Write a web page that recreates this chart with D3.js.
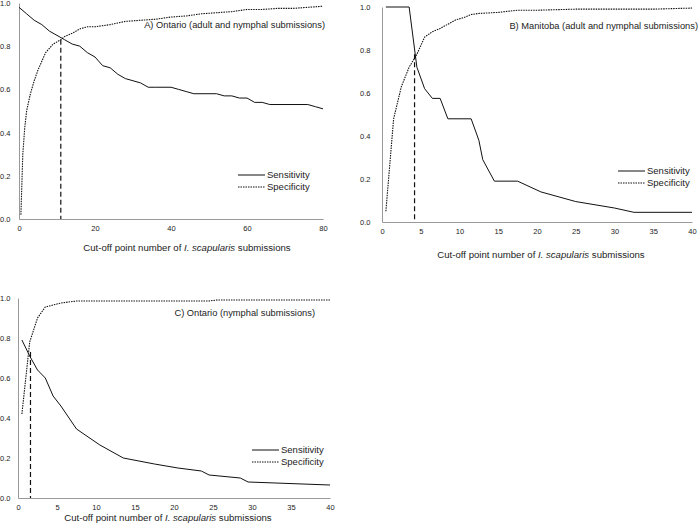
<!DOCTYPE html>
<html><head><meta charset="utf-8">
<script src="https://cdn.jsdelivr.net/npm/d3@7"></script>
<style>body{margin:0;background:#fff}svg{display:block}text{font-family:"Liberation Sans",Arial,sans-serif;fill:#222}</style>
</head><body><svg id="c" width="700" height="532"></svg>
<script>
// Panel A: Ontario (adult and nymphal submissions)
const sensA_x = [0,2,4,6,8,10,12,14,16,18,20,22,24,26,28,30,32,34,36,40,42,44,46,52,54,56,58,60,62,64,66,76,78,80];
const sensA_y = [0.98,0.95,0.92,0.90,0.87,0.85,0.83,0.81,0.80,0.77,0.75,0.71,0.70,0.67,0.65,0.64,0.63,0.61,0.61,0.61,0.60,0.59,0.58,0.58,0.57,0.57,0.56,0.56,0.54,0.54,0.53,0.53,0.52,0.51];
const specA_x = [0.5,1,1.5,2,3,4,5,6,7,8,9,10,11,12,14,16,18,20,24,28,32,36,40,44,48,52,56,60,64,68,72,76,80];
const specA_y = [0.02,0.30,0.42,0.50,0.58,0.64,0.69,0.73,0.77,0.79,0.81,0.82,0.83,0.845,0.86,0.88,0.89,0.89,0.90,0.915,0.92,0.925,0.935,0.94,0.95,0.955,0.96,0.97,0.97,0.975,0.975,0.98,0.985];
const cutA = [11, 0.83];
// Panel B: Manitoba
const sensB_x = [0.5,3.5,4.5,5.5,6.5,7.5,8.5,11.5,12.5,13,14.5,17.5,20.5,25,30,32.5,40];
const sensB_y = [1.0,1.0,0.72,0.62,0.575,0.575,0.48,0.48,0.38,0.29,0.19,0.19,0.14,0.095,0.065,0.045,0.045];
const specB_x = [0.5,1.5,2.5,3.5,4.5,5.5,6.5,7.5,8.5,9.5,10.5,11.5,12.5,15,17.5,20,25,30,35,40];
const specB_y = [0.05,0.48,0.63,0.72,0.78,0.86,0.885,0.90,0.92,0.94,0.95,0.965,0.97,0.975,0.985,0.985,0.99,0.99,0.99,0.995];
const cutB = [4.2, 0.78];
// Panel C: Ontario (nymphal submissions)
const sensC_x = [0.5,1.5,2.5,3.5,4.5,5.5,7.5,10.5,13.5,17.5,20.5,23.5,24.5,28.5,29.5,40];
const sensC_y = [0.79,0.71,0.64,0.60,0.51,0.46,0.345,0.265,0.20,0.17,0.15,0.135,0.115,0.10,0.08,0.065];
const specC_x = [0.5,1.5,2.5,3.5,4.5,5.5,7.5,10,24.5,25.5,40];
const specC_y = [0.42,0.78,0.90,0.955,0.965,0.975,0.985,0.985,0.985,0.99,0.99];
const cutC = [1.6, 0.73];

const yTicks = [0,0.2,0.4,0.6,0.8,1.0];
const xTicksA = [0,20,40,60,80];
const xTicks40 = [0,5,10,15,20,25,30,35,40];
const titles = ["A) Ontario (adult and nymphal submissions)","B) Manitoba (adult and nymphal submissions)","C) Ontario (nymphal submissions)"];

const svg = d3.select("#c");
const zip = (xs, ys) => xs.map((x,i)=>[x, ys[i]]);

function panel(o){
  const x = d3.scaleLinear().domain([0,o.xmax]).range([o.x0,o.x1]);
  const y = d3.scaleLinear().domain([0,1]).range([o.y0,o.y1]);
  const g = svg.append("g");
  const ax = g.append("g").attr("transform",`translate(0,${o.y0})`)
    .call(d3.axisBottom(x).tickValues(o.xt).tickSize(0).tickPadding(0).tickFormat(d3.format("d")));
  ax.select(".domain").attr("stroke","#999");
  ax.selectAll("text").attr("y",10).attr("dy","0.32em").style("font-size","7.5px").attr("fill","#222");
  const ay = g.append("g").attr("transform",`translate(${o.x0},0)`)
    .call(d3.axisLeft(y).tickValues(yTicks).tickSize(0).tickFormat(d3.format(".1f")));
  ay.select(".domain").attr("stroke","#999");
  ay.selectAll("text").attr("x",o.lblX - o.x0).attr("text-anchor","start").style("font-size","7.5px").attr("fill","#222");
  const line = d3.line().x(d=>x(d[0])).y(d=>y(d[1]));
  g.append("path").datum(o.sens).attr("d",line).attr("fill","none").attr("stroke","#111").attr("stroke-width",1);
  g.append("path").datum(o.spec).attr("d",line).attr("fill","none").attr("stroke","#111").attr("stroke-width",1.1).attr("stroke-dasharray","1.5,1");
  g.append("line").attr("x1",x(o.cut[0])).attr("x2",x(o.cut[0])).attr("y1",y(o.cut[1])).attr("y2",y(0))
    .attr("stroke","#111").attr("stroke-width",1.2).attr("stroke-dasharray","5,3");
  g.append("text").attr("x",o.tx).attr("y",o.ty).attr("text-anchor","end").style("font-size","9.3px").text(o.title);
  const xt = g.append("text").attr("x",o.axx).attr("y",o.axy).attr("text-anchor","middle").style("font-size","9.6px");
  xt.append("tspan").text("Cut-off point number of ");
  xt.append("tspan").style("font-style","italic").text("I. scapularis");
  xt.append("tspan").text(" submissions");
  // legend
  g.append("line").attr("x1",o.lx).attr("x2",o.lx+27).attr("y1",o.ly).attr("y2",o.ly).attr("stroke","#111");
  g.append("line").attr("x1",o.lx).attr("x2",o.lx+27).attr("y1",o.ly+12).attr("y2",o.ly+12).attr("stroke","#111").attr("stroke-width",1.1).attr("stroke-dasharray","1.5,1");
  g.append("text").attr("x",o.lx+29).attr("y",o.ly).attr("dy","0.35em").style("font-size","9.5px").text("Sensitivity");
  g.append("text").attr("x",o.lx+29).attr("y",o.ly+12).attr("dy","0.35em").style("font-size","9.5px").text("Specificity");
}

panel({xmax:80,x0:19,x1:323,y0:219,y1:3,xt:xTicksA,lblX:0,sens:zip(sensA_x,sensA_y),spec:zip(specA_x,specA_y),cut:cutA,
  title:titles[0],tx:325,ty:28,axx:187,axy:251,lx:238,ly:175});
panel({xmax:40,x0:382,x1:692,y0:222,y1:7,xt:xTicks40,lblX:360,sens:zip(sensB_x,sensB_y),spec:zip(specB_x,specB_y),cut:cutB,
  title:titles[1],tx:698,ty:29,axx:541,axy:258,lx:618,ly:171});
panel({xmax:40,x0:18,x1:330,y0:498,y1:298,xt:xTicks40,lblX:0,sens:zip(sensC_x,sensC_y),spec:zip(specC_x,specC_y),cut:cutC,
  title:titles[2],tx:315,ty:316,axx:168,axy:521,lx:252,ly:450});
</script></body></html>
